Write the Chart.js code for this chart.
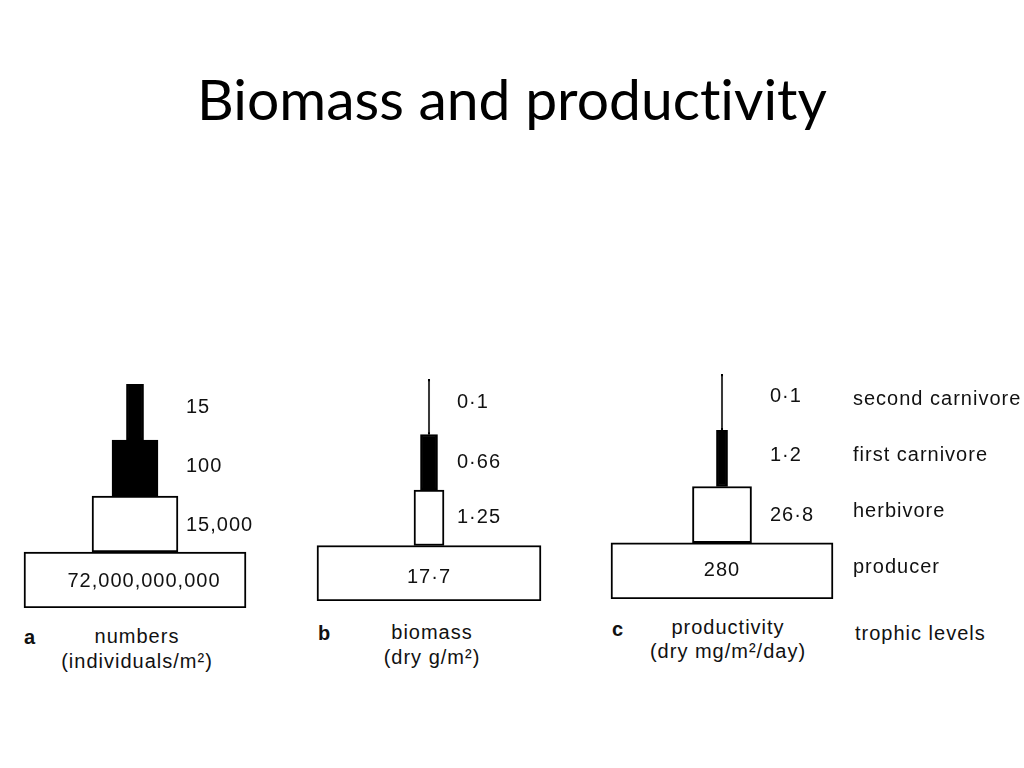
<!DOCTYPE html>
<html>
<head>
<meta charset="utf-8">
<title>Biomass and productivity</title>
<script src="https://cdn.jsdelivr.net/npm/chart.js@4.4.0/dist/chart.umd.min.js"></script>
<style>
  html, body { margin: 0; padding: 0; background: #fff; }
  body { width: 1024px; height: 768px; position: relative; overflow: hidden; }
  h1 {
    position: absolute; left: 0; width: 1024px; top: 63px; margin: 0;
    text-align: center; font-family: Lato, "Open Sans", sans-serif;
    font-weight: normal; font-size: 57px; line-height: 70px; color: #000;
    font-variant-ligatures: none;
  }
  canvas { position: absolute; }
  .cap {
    position: absolute; font-family: "Liberation Sans", Arial, sans-serif;
    font-size: 20px; letter-spacing: 1px; color: #111; white-space: nowrap;
    transform: translate(-50%, -50%); line-height: 1;
  }
  .cap.left { transform: translate(0, -50%); }
  .cap.bold { font-weight: bold; letter-spacing: 0; }
</style>
</head>
<body>
<h1>Biomass and productivity</h1>

<canvas id="chartA" width="300" height="224" style="left:0px;top:384px"></canvas>
<canvas id="chartB" width="290" height="222" style="left:300px;top:379px"></canvas>
<canvas id="chartC" width="434" height="225" style="left:590px;top:374px"></canvas>

<div class="cap left bold" style="left:24px;top:637px">a</div>
<div class="cap" style="left:137px;top:636px">numbers</div>
<div class="cap" style="left:137px;top:661px">(individuals/m²)</div>

<div class="cap left bold" style="left:318px;top:633px">b</div>
<div class="cap" style="left:432px;top:632px">biomass</div>
<div class="cap" style="left:432px;top:657px">(dry g/m²)</div>

<div class="cap left bold" style="left:612px;top:629px">c</div>
<div class="cap" style="left:728px;top:627px">productivity</div>
<div class="cap" style="left:728px;top:651px">(dry mg/m²/day)</div>

<div class="cap left" style="left:855px;top:633px">trophic levels</div>

<script>
// trophic levels, top of the pyramid first
const levels = ["second carnivore", "first carnivore", "herbivore", "producer"];

// values printed beside each level
const numbers = [15, 100, 15000, 72000000000];
const biomass = [0.1, 0.66, 1.25, 17.7];
const productivity = [0.1, 1.2, 26.8, 280];

// block widths as drawn in the figure (producer = 100)
const numbersWidth = [7.7, 20.7, 38.7, 100];
const biomassWidth = [0.7, 7.6, 13.4, 100];
const productivityWidth = [0.7, 5, 26.6, 100];

const levelFill = ["#000", "#000", "#fff", "#fff"];
const FONT = "Liberation Sans";
const SPACING = "1px";

function fmtThousands(v) { return v.toLocaleString("en-US"); }
function fmtDot(v) { return String(v).replace(".", "\u00b7"); }

// writes the value next to (or inside, for the producer) every block
const valueLabels = {
  id: "valueLabels",
  afterDatasetsDraw(chart, args, opts) {
    const ctx = chart.ctx;
    const xs = chart.scales.x, ys = chart.scales.y;
    ctx.save();
    ctx.font = "20px '" + FONT + "'";
    ctx.letterSpacing = SPACING;
    ctx.fillStyle = "#111";
    ctx.textBaseline = "middle";
    opts.texts.forEach(function (t, i) {
      const yc = ys.getPixelForValue(i);
      if (i === opts.texts.length - 1) {
        ctx.textAlign = "center";
        ctx.fillText(t, xs.getPixelForValue(0) + opts.insideDx, yc + opts.insideDy);
      } else {
        ctx.textAlign = "left";
        ctx.fillText(t, xs.getPixelForValue(opts.labelX), yc + (opts.dy[i] || 0));
      }
    });
    ctx.restore();
  }
};

function makePyramid(id, widths, texts, panel, withLevelNames) {
  const ctx = document.getElementById(id).getContext("2d");
  const k = panel.scale;
  return new Chart(ctx, {
    type: "bar",
    data: {
      labels: levels,
      datasets: [{
        data: widths.map(function (w) { return [-w / 2, w / 2]; }),
        backgroundColor: levelFill,
        borderColor: "#000",
        borderWidth: 2,
        borderSkipped: false,
        categoryPercentage: 1,
        barPercentage: 1
      }]
    },
    options: {
      indexAxis: "y",
      responsive: false,
      animation: false,
      devicePixelRatio: 1,
      layout: { padding: 0 },
      scales: {
        x: {
          type: "linear",
          display: false,
          min: -panel.center / k,
          max: (panel.areaWidth - panel.center) / k
        },
        y: {
          type: "category",
          display: withLevelNames,
          position: "right",
          grid: { display: false, drawTicks: false },
          border: { display: false },
          ticks: {
            padding: 1,
            labelOffset: -3,
            color: "#111",
            font: { family: FONT, size: 20 }
          },
          afterFit: function (scale) {
            if (!withLevelNames) return;
            scale.width = 172;
            scale.paddingTop = 0;
            scale.paddingBottom = 0;
          }
        }
      },
      plugins: {
        legend: { display: false },
        tooltip: { enabled: false },
        valueLabels: {
          texts: texts,
          labelX: (panel.labelX - panel.center) / k,
          insideDx: panel.insideDx,
          insideDy: panel.insideDy,
          dy: panel.dy
        }
      }
    },
    plugins: [valueLabels, {
      id: "spacing",
      beforeDraw(chart) { chart.ctx.letterSpacing = SPACING; }
    }]
  });
}

makePyramid("chartA", numbersWidth, numbers.map(fmtThousands),
  { areaWidth: 300, center: 135, scale: 2.22, labelX: 186, insideDx: 9, insideDy: 1, dy: [-5, -2, 1] }, false);

makePyramid("chartB", biomassWidth, biomass.map(fmtDot),
  { areaWidth: 290, center: 129, scale: 2.24, labelX: 157, insideDx: 0, insideDy: 4, dy: [-4, 0, 0] }, false);

makePyramid("chartC", productivityWidth, productivity.map(fmtDot),
  { areaWidth: 262, center: 132, scale: 2.22, labelX: 180, insideDx: 0, insideDy: 0, dy: [-6, -3, 1] }, true);
</script>
</body>
</html>
